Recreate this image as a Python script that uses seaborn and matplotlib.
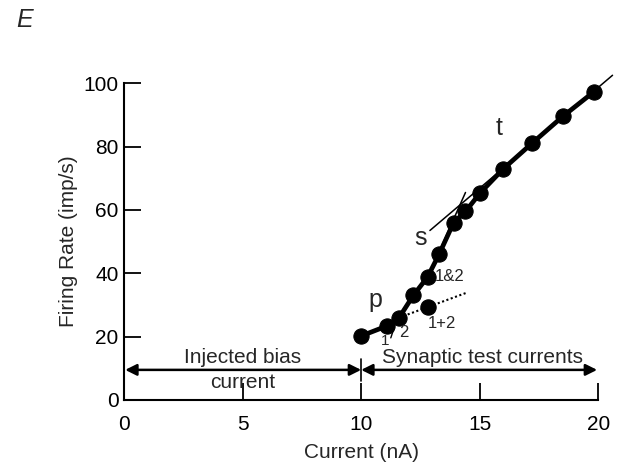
import numpy as np
import pandas as pd
import matplotlib
matplotlib.use("Agg")
import matplotlib.pyplot as plt
import seaborn as sns

# firing rate vs current
current = [10.0, 11.1, 11.6, 12.2, 12.8, 13.3, 13.9, 14.4, 15.0, 16.0, 17.2, 18.5, 19.8]
rate = [20.2, 23.4, 26.0, 33.0, 38.8, 46.2, 56.0, 59.5, 65.2, 73.0, 81.0, 89.5, 97.2]

# summed point (1+2) and its dotted extension
sum_x = [12.8]
sum_y = [29.3]
dotted_x = [11.6, 12.8, 14.5]
dotted_y = [26.0, 29.3, 34.0]

# thin tangent lines for the s and t segments
s_line_x = [13.0, 14.4]
s_line_y = [42.0, 65.5]
t_line_x = [12.9, 20.6]
t_line_y = [53.5, 102.5]

xticks = [0, 5, 10, 15, 20]
yticks = [0, 20, 40, 60, 80, 100]

sns.set_style("ticks")
plt.rcParams["font.family"] = ["Liberation Sans", "DejaVu Sans"]

fig = plt.figure(figsize=(6.2, 4.7), dpi=100)
ax = fig.add_axes([0.2, 0.149, 0.765, 0.674])

df = pd.DataFrame({"Current": current, "Rate": rate})

# tangent lines
ax.plot(t_line_x, t_line_y, color="black", lw=1.1, clip_on=False)
ax.plot(s_line_x, s_line_y, color="black", lw=1.1, clip_on=False)
ax.plot(dotted_x, dotted_y, color="black", lw=1.5, ls=(0, (1, 1.2)), clip_on=False)

sns.lineplot(data=df, x="Current", y="Rate", color="black", lw=3.4,
             marker="o", markersize=11, markeredgecolor="black",
             sort=False, ax=ax, clip_on=False)
sns.scatterplot(x=sum_x, y=sum_y, color="black", s=120, edgecolor="black", ax=ax, clip_on=False)

# arrows for bias and test currents
arr = dict(arrowstyle="<|-|>", color="black", lw=1.8, mutation_scale=17, shrinkA=0, shrinkB=0)
ax.annotate("", xy=(0.05, 9.5), xytext=(10, 9.5), arrowprops=arr)
ax.annotate("", xy=(10, 9.5), xytext=(19.95, 9.5), arrowprops=arr)
ax.plot([10, 10], [6.0, 13.0], color="black", lw=1.2)

ax.text(5, 13.5, "Injected bias", ha="center", va="center", fontsize=15)
ax.text(5, 5.6, "current", ha="center", va="center", fontsize=15)
ax.text(15.1, 13.3, "Synaptic test currents", ha="center", va="center", fontsize=15)

# segment labels
ax.text(15.8, 86, "t", ha="center", va="center", fontsize=18)
ax.text(12.5, 51, "s", ha="center", va="center", fontsize=18)
ax.text(10.6, 31.5, "p", ha="center", va="center", fontsize=18)
ax.text(13.1, 39, "1&2", ha="left", va="center", fontsize=12)
ax.text(13.4, 24, "1+2", ha="center", va="center", fontsize=12)
ax.text(11.02, 18.6, "1", ha="center", va="center", fontsize=11)
ax.plot([11.25, 11.4], [19.6, 23.0], color="black", lw=1.0)
ax.text(11.78, 21.4, "2", ha="center", va="center", fontsize=12)

ax.set_xlim(0, 20)
ax.set_ylim(0, 100)
ax.set_xticks(xticks)
ax.set_yticks(yticks)
ax.tick_params(axis="both", direction="in", length=12, width=1.3, labelsize=15, colors="black")
ax.tick_params(axis="x", pad=11)
ax.tick_params(axis="y", pad=4)
for side in ["left", "bottom"]:
    ax.spines[side].set_linewidth(1.5)
    ax.spines[side].set_color("black")
sns.despine(ax=ax)

ax.set_xlabel("Current (nA)", fontsize=15, labelpad=6)
ax.set_ylabel("Firing Rate (imp/s)", fontsize=15, labelpad=4)

fig.text(0.04, 0.957, "E", ha="center", va="center", fontsize=18, style="italic")

fig.savefig("out.png", dpi=100)
